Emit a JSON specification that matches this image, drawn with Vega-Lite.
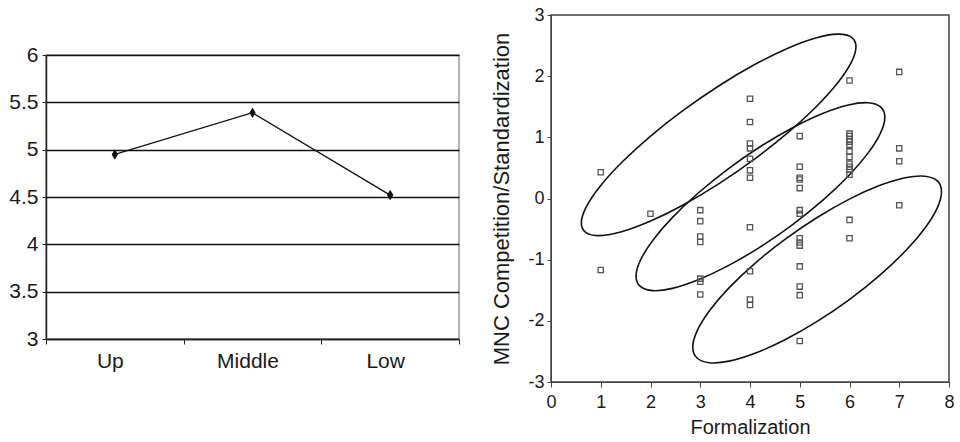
{
  "$schema": "https://vega.github.io/schema/vega-lite/v6.json",
  "background": "white",
  "padding": {"left": 8, "top": 5, "right": 5, "bottom": 5},
  "spacing": 29,
  "config": {
    "font": "Liberation Sans",
    "axis": {"labelColor": "#1a1a1a", "titleColor": "#1a1a1a", "labelFont": "Liberation Sans", "titleFont": "Liberation Sans", "titleFontWeight": "normal"}
  },
  "datasets": {
    "levels": [
      {"level": "Up", "value": 4.95},
      {"level": "Middle", "value": 5.39},
      {"level": "Low", "value": 4.52}
    ],
    "scatter": [
      {"f": 1, "m": 0.43}, {"f": 1, "m": -1.17},
      {"f": 2, "m": -0.25},
      {"f": 3, "m": -0.19}, {"f": 3, "m": -0.37}, {"f": 3, "m": -0.62}, {"f": 3, "m": -0.71}, {"f": 3, "m": -1.31}, {"f": 3, "m": -1.36}, {"f": 3, "m": -1.57},
      {"f": 4, "m": 1.63}, {"f": 4, "m": 1.25}, {"f": 4, "m": 0.90}, {"f": 4, "m": 0.82}, {"f": 4, "m": 0.65}, {"f": 4, "m": 0.46}, {"f": 4, "m": 0.34}, {"f": 4, "m": -0.47}, {"f": 4, "m": -1.19}, {"f": 4, "m": -1.65}, {"f": 4, "m": -1.74},
      {"f": 5, "m": 1.02}, {"f": 5, "m": 0.52}, {"f": 5, "m": 0.34}, {"f": 5, "m": 0.31}, {"f": 5, "m": 0.17}, {"f": 5, "m": -0.19}, {"f": 5, "m": -0.25}, {"f": 5, "m": -0.65}, {"f": 5, "m": -0.72}, {"f": 5, "m": -0.77}, {"f": 5, "m": -1.11}, {"f": 5, "m": -1.44}, {"f": 5, "m": -1.58}, {"f": 5, "m": -2.33},
      {"f": 6, "m": 1.93}, {"f": 6, "m": 1.06}, {"f": 6, "m": 1.02}, {"f": 6, "m": 0.97}, {"f": 6, "m": 0.93}, {"f": 6, "m": 0.88}, {"f": 6, "m": 0.77}, {"f": 6, "m": 0.68}, {"f": 6, "m": 0.57}, {"f": 6, "m": 0.52}, {"f": 6, "m": 0.47}, {"f": 6, "m": 0.39}, {"f": 6, "m": -0.35}, {"f": 6, "m": -0.65},
      {"f": 7, "m": 2.07}, {"f": 7, "m": 0.82}, {"f": 7, "m": 0.61}, {"f": 7, "m": -0.11}
    ],
    "ellipses": [
      {"e": 1, "i": 0, "f": 6.13, "m": 2.48}, {"e": 1, "i": 1, "f": 6.036, "m": 2.638}, {"e": 1, "i": 2, "f": 5.76, "m": 2.687}, {"e": 1, "i": 3, "f": 5.321, "m": 2.624},
      {"e": 1, "i": 4, "f": 4.75, "m": 2.453}, {"e": 1, "i": 5, "f": 4.084, "m": 2.186}, {"e": 1, "i": 6, "f": 3.37, "m": 1.84}, {"e": 1, "i": 7, "f": 2.656, "m": 1.44},
      {"e": 1, "i": 8, "f": 1.99, "m": 1.013}, {"e": 1, "i": 9, "f": 1.419, "m": 0.588}, {"e": 1, "i": 10, "f": 0.98, "m": 0.193}, {"e": 1, "i": 11, "f": 0.704, "m": -0.144},
      {"e": 1, "i": 12, "f": 0.61, "m": -0.4}, {"e": 1, "i": 13, "f": 0.704, "m": -0.558}, {"e": 1, "i": 14, "f": 0.98, "m": -0.607}, {"e": 1, "i": 15, "f": 1.419, "m": -0.544},
      {"e": 1, "i": 16, "f": 1.99, "m": -0.373}, {"e": 1, "i": 17, "f": 2.656, "m": -0.106}, {"e": 1, "i": 18, "f": 3.37, "m": 0.24}, {"e": 1, "i": 19, "f": 4.084, "m": 0.64},
      {"e": 1, "i": 20, "f": 4.75, "m": 1.067}, {"e": 1, "i": 21, "f": 5.321, "m": 1.492}, {"e": 1, "i": 22, "f": 5.76, "m": 1.887}, {"e": 1, "i": 23, "f": 6.036, "m": 2.224},
      {"e": 2, "i": 0, "f": 6.71, "m": 1.33}, {"e": 2, "i": 1, "f": 6.625, "m": 1.498}, {"e": 2, "i": 2, "f": 6.375, "m": 1.566}, {"e": 2, "i": 3, "f": 5.978, "m": 1.529},
      {"e": 2, "i": 4, "f": 5.46, "m": 1.39}, {"e": 2, "i": 5, "f": 4.857, "m": 1.158}, {"e": 2, "i": 6, "f": 4.21, "m": 0.85}, {"e": 2, "i": 7, "f": 3.563, "m": 0.486},
      {"e": 2, "i": 8, "f": 2.96, "m": 0.09}, {"e": 2, "i": 9, "f": 2.442, "m": -0.309}, {"e": 2, "i": 10, "f": 2.045, "m": -0.686}, {"e": 2, "i": 11, "f": 1.795, "m": -1.014},
      {"e": 2, "i": 12, "f": 1.71, "m": -1.27}, {"e": 2, "i": 13, "f": 1.795, "m": -1.438}, {"e": 2, "i": 14, "f": 2.045, "m": -1.506}, {"e": 2, "i": 15, "f": 2.442, "m": -1.469},
      {"e": 2, "i": 16, "f": 2.96, "m": -1.33}, {"e": 2, "i": 17, "f": 3.563, "m": -1.098}, {"e": 2, "i": 18, "f": 4.21, "m": -0.79}, {"e": 2, "i": 19, "f": 4.857, "m": -0.426},
      {"e": 2, "i": 20, "f": 5.46, "m": -0.03}, {"e": 2, "i": 21, "f": 5.978, "m": 0.369}, {"e": 2, "i": 22, "f": 6.375, "m": 0.746}, {"e": 2, "i": 23, "f": 6.625, "m": 1.074},
      {"e": 3, "i": 0, "f": 7.85, "m": 0.11}, {"e": 3, "i": 1, "f": 7.765, "m": 0.287}, {"e": 3, "i": 2, "f": 7.515, "m": 0.365}, {"e": 3, "i": 3, "f": 7.118, "m": 0.339},
      {"e": 3, "i": 4, "f": 6.6, "m": 0.211}, {"e": 3, "i": 5, "f": 5.997, "m": -0.01}, {"e": 3, "i": 6, "f": 5.35, "m": -0.31}, {"e": 3, "i": 7, "f": 4.703, "m": -0.668},
      {"e": 3, "i": 8, "f": 4.1, "m": -1.059}, {"e": 3, "i": 9, "f": 3.582, "m": -1.457}, {"e": 3, "i": 10, "f": 3.185, "m": -1.835}, {"e": 3, "i": 11, "f": 2.935, "m": -2.167},
      {"e": 3, "i": 12, "f": 2.85, "m": -2.43}, {"e": 3, "i": 13, "f": 2.935, "m": -2.607}, {"e": 3, "i": 14, "f": 3.185, "m": -2.685}, {"e": 3, "i": 15, "f": 3.582, "m": -2.659},
      {"e": 3, "i": 16, "f": 4.1, "m": -2.531}, {"e": 3, "i": 17, "f": 4.703, "m": -2.31}, {"e": 3, "i": 18, "f": 5.35, "m": -2.01}, {"e": 3, "i": 19, "f": 5.997, "m": -1.652},
      {"e": 3, "i": 20, "f": 6.6, "m": -1.261}, {"e": 3, "i": 21, "f": 7.118, "m": -0.863}, {"e": 3, "i": 22, "f": 7.515, "m": -0.485}, {"e": 3, "i": 23, "f": 7.765, "m": -0.153}
    ]
  },
  "hconcat": [
    {
      "spacing": 10,
      "vconcat": [
        {
          "width": 413,
          "height": 18,
          "view": {"stroke": null},
          "data": {"values": []},
          "mark": {"type": "text"},
          "encoding": {}
        },
        {
          "width": 413,
          "height": 284,
          "view": {"stroke": "#999999", "strokeWidth": 1.5},
          "data": {"name": "levels"},
          "encoding": {
            "x": {
              "field": "level", "type": "nominal", "sort": ["Up", "Middle", "Low"],
              "scale": {"paddingInner": 0, "paddingOuter": 0},
              "axis": {"title": null, "labelAngle": 0, "tickBand": "extent", "domainColor": "#222222", "tickColor": "#222222", "domainWidth": 1.5, "labelFontSize": 21, "labelPadding": 6, "labelOffset": -5, "tickSize": 5}
            },
            "y": {
              "field": "value", "type": "quantitative",
              "scale": {"domain": [3, 6], "nice": false, "zero": false},
              "axis": {"title": null, "values": [3, 3.5, 4, 4.5, 5, 5.5, 6], "format": "~g", "grid": true, "gridColor": "#111111", "gridOpacity": 1, "gridWidth": 1.5, "domainColor": "#222222", "domainWidth": 1.5, "tickColor": "#222222", "tickSize": 4, "labelPadding": 4, "labelFontSize": 21}
            }
          },
          "layer": [
            {"mark": {"type": "line", "color": "#111111", "strokeWidth": 1.3}},
            {"mark": {"type": "point", "shape": "M0,-1L0.6,0L0,1L-0.6,0Z", "filled": true, "color": "#111111", "opacity": 1, "size": 110}}
          ]
        }
      ]
    },
    {
      "width": 398,
      "height": 367,
      "view": {"stroke": "#444444", "strokeWidth": 1.5},
      "encoding": {
        "x": {
          "field": "f", "type": "quantitative",
          "scale": {"domain": [0, 8], "nice": false, "zero": false},
          "axis": {"title": "Formalization", "values": [0, 1, 2, 3, 4, 5, 6, 7, 8], "labelFlush": false, "grid": false, "domainColor": "#444444", "tickColor": "#444444", "tickSize": 5, "labelPadding": 6, "labelFontSize": 18, "titleFontSize": 20, "titlePadding": 6}
        },
        "y": {
          "field": "m", "type": "quantitative",
          "scale": {"domain": [-3, 3], "nice": false, "zero": false},
          "axis": {"title": "MNC Competition/Standardization", "values": [-3, -2, -1, 0, 1, 2, 3], "labelExpr": "toString(datum.value)", "labelFlush": false, "grid": false, "domainColor": "#444444", "tickColor": "#444444", "tickSize": 4, "labelPadding": 3, "labelFontSize": 18, "titleFontSize": 22, "titlePadding": 14}
        }
      },
      "layer": [
        {
          "data": {"name": "ellipses"},
          "mark": {"type": "line", "interpolate": "cardinal-closed", "color": "#111111", "strokeWidth": 1.6},
          "encoding": {"detail": {"field": "e", "type": "nominal"}, "order": {"field": "i", "type": "quantitative"}}
        },
        {
          "data": {"name": "scatter"},
          "mark": {"type": "point", "shape": "square", "filled": false, "color": "#555555", "strokeWidth": 1.3, "opacity": 1, "size": 28}
        }
      ]
    }
  ]
}
